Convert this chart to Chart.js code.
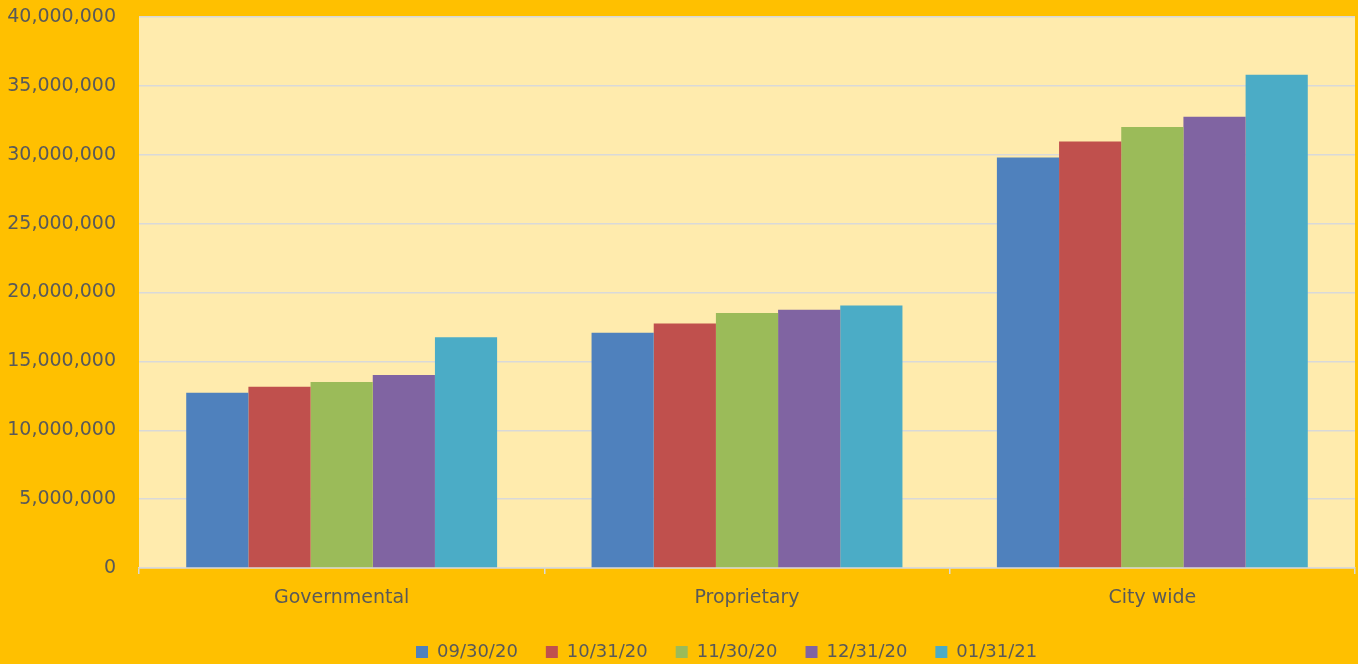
<!DOCTYPE html>
<html>
<head>
<meta charset="utf-8">
<script src="https://cdn.jsdelivr.net/npm/chart.js@4/dist/chart.umd.min.js"></script>
<style>
  html, body { margin: 0; padding: 0; background: #FFC000; }
  #wrap { width: 1358px; height: 664px; position: relative; }
</style>
</head>
<body>
<div id="wrap"><canvas id="c" width="1358" height="664"></canvas></div>
<script>
const categories = ['Governmental', 'Proprietary', 'City wide'];
const seriesLabels = ['09/30/20', '10/31/20', '11/30/20', '12/31/20', '01/31/21'];
const s20200930 = [12730000, 17070000, 29800000];
const s20201031 = [13160000, 17750000, 30960000];
const s20201130 = [13500000, 18520000, 32020000];
const s20201231 = [14010000, 18740000, 32750000];
const s20210131 = [16750000, 19050000, 35800000];
const yTicks = [0, 5000000, 10000000, 15000000, 20000000, 25000000, 30000000, 35000000, 40000000];

const colors = ['#4F81BD', '#C0504D', '#9BBB59', '#8064A2', '#4BACC6'];
const seriesValues = [s20200930, s20201031, s20201130, s20201231, s20210131];

const bgPlugin = {
  id: 'bg',
  beforeDraw(chart) {
    const {ctx, chartArea: a} = chart;
    ctx.save();
    ctx.fillStyle = '#FFC000';
    ctx.fillRect(0, 0, chart.width, chart.height);
    ctx.fillStyle = '#FFEBAD';
    ctx.fillRect(a.left, a.top, a.right - a.left, a.bottom - a.top);
    ctx.restore();
  },
  afterLayout(chart) {
    const lg = chart.legend;
    if (lg) {
      const dy = 7;
      lg.top += dy; lg.bottom += dy;
      lg.left = 416 - 28;
    }
  }
};

new Chart(document.getElementById('c'), {
  type: 'bar',
  data: {
    labels: categories,
    datasets: seriesValues.map((vals, i) => ({
      label: seriesLabels[i],
      data: vals,
      backgroundColor: colors[i],
      borderWidth: 0,
      categoryPercentage: 0.767,
      barPercentage: 1.0
    }))
  },
  options: {
    responsive: false,
    animation: false,
    devicePixelRatio: 1,
    layout: { padding: { top: 17, right: 3, left: 0, bottom: 0 } },
    plugins: {
      legend: {
        position: 'bottom',
        align: 'start',
        labels: {
          boxWidth: 12,
          boxHeight: 12,
          padding: 28,
          color: '#595959',
          font: { family: 'DejaVu Sans', size: 18 }
        }
      },
      tooltip: { enabled: false }
    },
    scales: {
      x: {
        grid: {
          offset: true,
          drawOnChartArea: false,
          drawTicks: true,
          tickLength: 6,
          color: '#D9D9D9',
          lineWidth: 1.5
        },
        border: { display: true, color: '#D9D9D9', width: 1.5 },
        ticks: {
          color: '#595959',
          padding: 13,
          font: { family: 'DejaVu Sans', size: 19 }
        },
        afterFit(scale) { scale.height = 40; }
      },
      y: {
        min: 0,
        max: 40000000,
        afterBuildTicks(scale) { scale.ticks = yTicks.map(v => ({ value: v })); },
        grid: { color: '#D9D9D9', lineWidth: 1.5, drawTicks: true, tickLength: 23, tickColor: 'rgba(0,0,0,0)' },
        border: { display: false },
        ticks: {
          color: '#595959',
          padding: 0,
          font: { family: 'DejaVu Sans', size: 19 },
          callback: (v) => Number(v).toLocaleString('en-US')
        },
        afterFit(scale) { scale.width = 139; }
      }
    }
  },
  plugins: [bgPlugin]
});
</script>
</body>
</html>
